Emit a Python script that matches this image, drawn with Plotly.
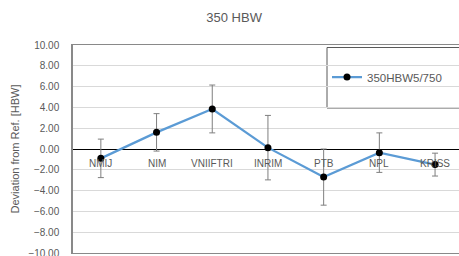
import plotly.graph_objects as go

categories = ["NMIJ", "NIM", "VNIIFTRI", "INRIM", "PTB", "NPL", "KRISS"]
deviation = [-0.9, 1.6, 3.85, 0.13, -2.7, -0.35, -1.5]
uncertainty = [1.85, 1.8, 2.3, 3.1, 2.7, 1.9, 1.1]
series_name = "350HBW5/750"
title = "350 HBW"
y_title = "Deviation from Ref. [HBW]"

L, T, W, H = 73, 45, 459, 264
B = 11
pw = W - L
ph = H - T - B

fig = go.Figure()
fig.add_trace(go.Scatter(
    x=list(range(len(categories))), y=deviation, name=series_name,
    mode="lines+markers",
    line=dict(color="#5B9BD5", width=2.25),
    marker=dict(color="black", size=7),
    error_y=dict(type="data", array=uncertainty, visible=True,
                 color="#7f7f7f", thickness=1, width=3),
))

for i, c in enumerate(categories):
    fig.add_annotation(x=i, y=0, text=c, showarrow=False, yanchor="top",
                       yshift=-7, font=dict(family="Arial, Liberation Sans", size=10, color="#595959"))

# legend box
fig.add_shape(type="rect", xref="paper", yref="paper",
              x0=(327 - L) / pw, x1=1.02, y0=(H - B - 108) / ph, y1=(H - B - 47.5) / ph,
              line=dict(color="#595959", width=1), fillcolor="white", layer="below")

fig.update_layout(
    width=W, height=H,
    margin=dict(l=L, r=0, t=T, b=B),
    paper_bgcolor="white", plot_bgcolor="white",
    title=dict(text=title, x=0.51, xref="container", xanchor="center", y=1 - 17 / H, yanchor="middle",
               font=dict(family="Arial, Liberation Sans", size=13, color="#595959")),
    font=dict(family="Arial, Liberation Sans", size=10, color="#595959"),
    showlegend=True,
    legend=dict(x=(327 - L) / pw, y=(H - B - 77) / ph, xanchor="left", yanchor="middle",
                bgcolor="rgba(0,0,0,0)", borderwidth=0,
                font=dict(size=11.5, color="#595959"), itemwidth=30),
    xaxis=dict(range=[-0.5, 6.43], showticklabels=False, showgrid=False,
               zeroline=False, showline=True, linecolor="#898989", linewidth=1, mirror=True,
               ticks=""),
    yaxis=dict(range=[-10, 10], dtick=2, tickformat=".2f", showgrid=True,
               gridcolor="#d9d9d9", gridwidth=1, zeroline=True, zerolinecolor="black",
               zerolinewidth=1, showline=True, linecolor="#898989", linewidth=1.5, mirror=True,
               ticks="", ticklabelstandoff=10, automargin=False,
               title=dict(text=y_title, standoff=7,
                          font=dict(size=11, color="#595959"))),
)

fig.write_html("out.html", config={"displayModeBar": False},
               post_script="document.body.style.margin='0';document.body.style.overflow='hidden';")
